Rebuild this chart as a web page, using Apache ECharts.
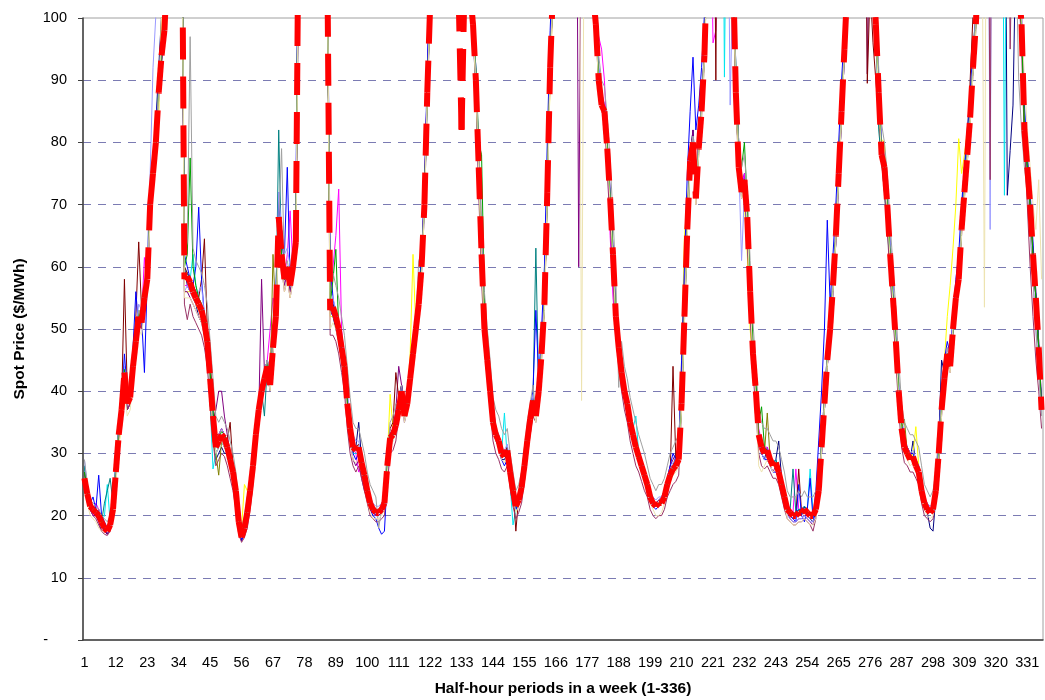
<!DOCTYPE html>
<html><head><meta charset="utf-8">
<script src="https://cdn.jsdelivr.net/npm/echarts@6/dist/echarts.min.js"></script>
<style>html,body{margin:0;padding:0;background:#fff}#c{width:1045px;height:700px}</style>
</head><body><div id="c"></div>
<script>
// Categories: half-hour periods 1..336
const periods = Array.from({length: 336}, (_, i) => String(i + 1));
const yTickValues = [0,10,20,30,40,50,60,70,80,90,100];

// Weekly price profiles ($/MWh); values above 100 are off the chart (clipped)
const priceNavy = [
28,24,21,20,20,21,18.5,17.5,17,18,20,26,32,36,41,37,38,45,50,53,52,56,60,72,77,83,92,100.5,110,120,130,140,150,140,125,60,57,56,55,54,52,51,50,46,38,33,29,30,
31,30,30,28,26,23,18,16,17.5,20,25,29,34,38,41,43,45,42,50,56,72,65,60,58,56,58,62,110,150,170,180,175,170,160,150,140,125,110,55,52,50,48,45,41,36,33,30,31,
35,29,27,25,22,21,20,20,20.5,21.5,27,33,34,36,38,41,37,39,44,48,52,55,62,72,90,105,105,110,115,120,125,120,115,110,106,104,100.5,108,110,104,98,88,74,60,48,43,38,34,
32,31,29,29,30,26.5,23,21,22,24,27,31,35,38,37,41,47,55,74,94,108,125,145,160,170,175,170,165,155,145,135,125,118,110,104,99,90,87,84,78,70,60,50,45,41,39,37,34,
32,30,29,27.5,26,25,23,22,21.5,22,22.5,23.5,25.5,27,28,29.5,31,40,54,68,78,82,74,80,86,95,110,130,150,160,165,160,150,135,120,108,90,77,73,75,66,55,45,39,32,30,29,31,
29,28,29,32,26,23,21,20,19.5,20,21,20,21.5,20,19.5,19,20.5,23,30,37,44,50,56,64,74,84,94,105,125,145,160,165,160,150,135,120,108,99,88,79,76,70,63,56,48,41,35,32,
30,29,32,28,27,24,22,20.5,18,17.5,23,32,45,43,46,44,50,55,58,66,72,78,84,92,99,110,130,150,165,175,180,175,170,160,150,71.5,78.7,86,112,105,99,82,76,70,62,55,47,38];

const priceMagenta = [
27,23,21,20,22,21,19,18,17.5,18,21,27,33,38,44,39,40,44,49,53,52,61.5,57,68,74,80,88,94,98,108,125,140,150,145,130,57,57,56,55,54,53,52,50,47,43,37,32,33,
34,33,31,29,27,24,19,17,18,21,25,29,33,38,41,43,45,50,55,53,64,60,58,62,69,60,66,120,150,170,180,175,170,160,150,140,125,110,55,60,65,72.5,50,45,38,33,31,30,
27,28,25,23,21,20.5,20,20.5,21,22,29,33,34,35,38,40,37,39,43,47,51,55,61,71,90,104,103,105,112,118,122,120,114,110,107,105,100.5,106,112,106,100.5,91,78,63,51,46,41,36,
34,32,31,30,31,27,24,22,23,25,29,33,36,39,37,41,47,56,74,94,106,125,145,160,170,175,170,165,155,145,135,125,118,110,104,100.5,97,95,90,80,65,55,50,45,41,39,36,34,
32,31,30,28,27,25,23.5,22,21.5,22,22.5,23.5,25.5,27,28,28.5,30,40,53,67,78,81,72,80,86,95,110,130,96,98,165,160,150,135,120,108,89,77,73,75,69,57,47,41,34,32,31,31,
29.5,28.5,29,27.5,26,24,22,21,20.5,27.5,21,21,21.5,21,20.5,20,21.5,25,32,39,46,51,58,66,76,86,96,106,125,145,160,165,160,150,135,120,108,100.5,89,79,77,71,63,56,49,41,35,32,
31,30,30,29,28,25,23,22,21,22,25,31,38,43,47,45,51,56,59,67,73,79,85,93,100.5,112,130,150,165,175,180,175,170,160,150,140,130,120,112,106,100.5,83,77,71,63,56,48,38];

const priceYellow = [
25,23,21.5,21,20.5,19.5,18.5,18,18,19,21,26,31,35,40,39,41,45,49,53,52,56,60,72,78,83.5,84,100.5,110,120,130,140,150,140,125,56,56,56,55,54,53,52,50,46,40,34,30,31,
32,31,30,28,26,23,19,18,25,24,25,29,34,38,41,43,45,42,48,54,66,61,58,59,57,59,63,115,150,170,180,175,170,160,150,140,125,110,52,52,51,49,46,43,38,34,31,31,
30,28,26,24,22,21,20.5,20.5,21,22,29,39.5,34,35,37,40,37,39,46,62,50,55,60,71,89,103,102,104,110,115,120,118,112,108,105,103,100.5,105,110,104,99.5,91,78,64,52,50,41,36,
33,32,30,29.5,30,26.5,24,21.5,22.5,24.5,28,32,35,38,36,40,46,53,71,90,104,125,145,160,170,175,170,165,155,145,135,125,118,110,104,99,91,87,85,79,72,62,52,48,44,41,38,35.5,
33,31,29.5,28,26.5,25,23,22,21.5,22,22,23,25,26.5,27.5,28,29,45,65,70,78,81,72,80,86,95,110,130,150,160,165,160,150,135,120,108,89,77,73,70,62,50,44,38,33,31,30,30,
29,28,28.5,27,25,23,21,20.5,20,20,20.5,20.5,21,20.5,20,20,21,24,31,38,45,50,57,65,75,85,95,105,125,145,160,165,160,150,135,120,108,99,88,80.5,80,72,64,57,50,42,35,32,
30,29,30,34.3,28,25,23,21.5,21,21.5,25,32,40,45,52,57,63,70,80.6,75,78,82,88,95,100.5,110,130,150,165,175,180,175,170,160,150,140,130,120,112,105,99,84,78,71,63,56,48,38];

const priceCyan = [
28,25,22,21,20,20,19,20,25,19,22,29,34,39,44,39,40,45,49,53,52,56,60,70,74,79,87,93,97,106,125,140,150,145,130,60,59,58,62,57,55,54,52,48,38,27.5,30,31,
32,31,30,28,26,23,18,16.5,18,21,25,29,34,38,41,43,45,42,48,53,66,61,58,60,57,60,64,120,150,170,180,175,170,160,150,140,125,110,53,52,51,49,46,43,37,33,30,30,
30,28,26,24,22,21,20.5,20.5,21,22,27,32,33,34.5,37,40,36,38,42,46,50,54,60,70,88,102,101,103,110,115,120,118,112,108,105,103,100.5,105,110,104,99.5,90,76,62,50,45,40,35,
33,32,30,36.5,29,25,18.5,21,23,25,29,33,36,39,37,41,47,55,73,93,106,125,145,160,170,175,170,165,155,145,135,125,118,110,104,99,90,86,85,79,71,62,52,47,43,40,38,36,
34,36,30,28.5,27,25.5,23.5,22.5,22,22.5,22.5,23.5,25.5,27,28,28.5,29.5,39,53,67,78,81,72,80,86,95,110,130,150,160,165,160,90.5,135,120,108,88,77,73,70.6,66,55,45,39,33,31,30,30.5,
29,28.5,29,27.5,25.5,23.5,21.5,21,20.5,20.5,21,21,21.5,21,27.5,20.5,21.5,24.5,31,38,45,50,57,65,75,85,95,105,125,145,160,165,160,150,135,120,108,99,88,78,76,70,62,55,48,40,34,31,
30,29,29.5,28,27,24,22,21,20.5,21,24,30,37,42,46,44,50,55,58,66,72,78,84,92,99,110,130,150,165,175,180,175,170,160,71.5,140,130,120,112,105,99,82,76,70,62,55,47,37];

const pricePurple = [
27,24,21,20.5,20,19,17.5,18,17,18,20,26,32,36,42,37,38,43,47,51,50,54,57,69,74,79,87,93,97,108,125,140,150,145,130,56,56,55,54,53,52,51,49,46,40,35,37,40,
40,36,33,30,28,24,19,16,17.5,20,23,27,32,36,58,43,45,42,48,53,65,61,57,59,56,59,62,115,150,170,180,175,170,160,150,140,125,110,53,52,51,49,46,42,36,32,29,28,
29,26,24,23,21,20.5,20,20,20.5,21.5,28,33,34,37,44,41,38,40,43,47,51,55,61,71,89,103,102,104,111,116,121,119,113,109,106,104,100.5,106,111,105,100.5,91,77,63,51,46,41,36,
33,32,30,29.5,30.5,27,24,21.5,22.5,24.5,28,32,35.5,38.5,36,40,46,54,72,92,105,125,145,160,170,175,170,165,155,60,135,125,118,110,104,99,91,87,85.5,80,72,63,53,48,44,41,39,36,
34,32,30,29,27,25.5,23.5,22.5,22,22.5,23,24,26,28,29,30,31,42,55,68,78,82,74,80,86,95,110,130,150,160,165,160,150,135,120,108,88,76,72,74,68,56,46,40,33,31,30,30.5,
28,27,28,26,24,22,20.5,19.5,19,19,19.5,19.5,20,19.5,19,18.5,20,23,30,37,44,49,56,64,74,84,94,104,125,145,160,165,160,150,91,120,108,99,88,78,76,70,62,55,48,40,34,31,
31,30,30,29,27.5,24.5,22.5,21.5,21,21.5,25,31,37,42,46,44,50,55,58,66,72,78,84,92,99,110,130,150,165,175,180,175,170,160,150,140,130,120,112,105,99,82,76,70,62,55,47,37];

const priceMaroon = [
27,25,22,21.5,21,20.5,19.5,18.5,18,19,21.5,28,34,38,58,40,40,45,52,64,53,56,59,71,76,81,89,95,99,108,125,140,150,145,130,60,59,58,57,56,55,58,64.5,50,45,38,33,33,
34,33,32,35,28,25,20,17,18.5,21,24.5,28.5,33.5,37.5,40.5,42.5,44.5,41.5,47.5,52.5,67,62,58,60,57,60,64,120,150,170,180,175,170,160,150,140,125,110,54,54,52.5,50.5,47.5,44.5,39,35,32,31,
31.5,29,27,24.5,22.5,21.5,21,21,21.5,22.5,29,34,35,43,39,41,37,39,43,47,51,55,61,71,89,103,102,104,111,116,121,119,113,109,106,104,100.5,106,111,105,100.5,91,77,63,51,46,41,36,
34,33,31,30,31,27.5,24.5,17.5,23,25,29,33,36,39,37,41,47,55,73,93,106,125,145,160,170,175,170,165,155,145,135,125,118,110,104,99,90,86,85,79,71,62,52,47,43,40,38,35,
33,31,29.5,28,26.5,25,23,22,21.5,22,22,23,25,26.5,44,29,30,39,53,67,78,81,72,80,86,95,110,130,150,90,165,160,150,135,120,108,88,76,72,74,68,56,46,40,33,31,30,30.5,
29,28,28.5,27,25,23,21,20.5,20,20,27.5,20.5,21,20.5,20,20,21,24,31,38,45,50,57,65,75,85,95,105,125,145,160,165,160,150,89.5,105,96,90,84,77,75,69,61,54,47,40,34,31,
30,29,29.5,28,27,24,22,21,20.5,21,24,30,37,42,46,44,50,55,58,66,74,76,90,100.5,110,115,130,150,165,175,180,175,170,160,150,140,130,120,112,105,99,82,76,70,62,55,47,37];

const priceTeal = [
28,24,22,21,20.5,20,19,22,24,26,22,27,33,37,43,38,39,44,48,52,51,55,58,70,75,80,88,94,98,108,125,140,150,145,130,59,59,58,57,56,54,53,51,48,42,36,31,32,
33,32.5,31,29,27,24,19,16.5,18,20.5,24,28,33,37,40,36,44,41,47,52,82,62,58,60,57,60,64,120,150,170,180,175,170,160,150,140,125,110,53,53.5,52,50,47,44,38,34,31,30.5,
31,28.5,26.5,24,22,21,20.5,20.5,21,22,28,32.5,33,34.5,37,40,36,38,42,46,50,54,60,70,88,102,101,103,110,115,120,118,112,108,105,103,100.5,105,110,104,99,90,76,62,50,45,40,35,
33,32,30,29.5,30.5,27,24,21.5,22.5,24.5,28,32,35.5,38.5,63,40,46,54,72,92,105,125,145,160,170,175,170,165,155,145,135,125,118,110,104,99,90,86,85,79,71,62,52,47,43,40,38,35,
33,31,29.5,28,26.5,25,23,22,21.5,22,22,23,25,26.5,27.5,28,29,38,52,66,77,80,71,79,85,94,110,130,150,160,165,160,150,135,120,108,88,76,72,74,68,56,46,40,33,31,30,30.5,
29.5,28.5,29,27.5,25.5,23.5,21.5,21,27.5,20.5,21,21,21.5,21,20.5,20.5,21.5,25,32,39,46,51,58,66,76,86,96,106,125,145,160,165,160,150,135,120,108,99,82,77,72,66,60,53,46,39,33,30,
30,29,29.5,28,27,24,22,21,20.5,21,24,30,37,42,46,44,50,55,60,68,76,80,86,93,99.5,110,130,150,165,175,180,175,170,160,150,140,130,120,112,105,99,82,76,70,62,55,47,37];

const priceBlue = [
27,24,22,23,21,26.5,20,19,18,19.5,22,28,34,38,46,40,41,47,56,50,52,43,58,68,76,82,90,96,100.5,112,130,140,150,140,120,62,60,58,57,60,69.6,58,52,48,40,34,30,31,
32,31,30,28,26,23,18,16,17.5,20,23,27,32,36,39,41,43,40,46,55,70,66,62,76,58,62,70,125,150,170,180,175,170,160,150,140,125,110,61,55,52,49,45,42,36,33,30,29,
30,28,26,23,21,20,19.5,18,17,17.5,26,31,33,35,38,41,37,39,43,47,51,56,62,72,92,110,112,115,120,125,130,125,120,115,110,108,105,110,112,106,100.5,92,78,64,52,46,42,38,
34,31,29,28,29,26,23,21,22,24,29,34,37,40,53,42,50,60,80,98,110,130,150,160,170,175,170,165,155,145,135,125,118,110,106,101,92,88,86,80,72,63,53,46,42,39,36,34,
32,30,29,27,26,24,22.5,21.5,21,21.5,22,24,26,28,30,29,31,45,60,75,85,93.7,82,86,92,100.5,115,130,150,160,165,160,150,135,120,110,92,80,74,72,66,54,44,38,32,30,29,29,
28,27,27,26,24,22,21,20,19.5,19,25,20,19,21,26,19.5,24,32,40,50,67.5,54,62,70,80,90,98,108,125,145,160,165,160,150,135,120,110,100.5,90,80,77,72,64,57,49,41,35,32,
31,30,30,29,28,25,23,21.5,20.5,21,25,33,40,45,48,46,52,58,62,70,76,82,88,95,100.5,115,130,150,165,175,180,175,170,160,150,140,130,120,112,106,100.5,86,78,72,64,56,48,38];

const priceLavender = [
29,25,22,21.5,21,20,19.5,18.5,18,19,22,28,34,38,44,39,41,46,50,54,53,57,62,75,92,100.5,110,120,130,140,150,160,165,150,130,56,57,56,55,54,56,57,52,49,43,37,32,33,
34,33,32,30,28,25,20,17,18.5,21,25,29,34,38,41,43,45,44,50,56,72,66,62,63,60,63,67,120,150,170,180,175,170,160,150,140,125,110,56,55,53,51,48,45,40,36,33,32,
32,29,27,25,23,22,21.5,21.5,22,23,29,31,32,34,36,39,35,37,41,45,49,53,59,69,87,101,100.5,103,110,115,120,118,112,108,105,103,100.5,105,110,104,100.5,92,78,64,52,47,42,37,
34,33,31,30.5,31.5,28,25,22.5,23.5,25.5,29,33,36.5,39.5,37,41,47,55,73,93,106,125,145,160,170,175,170,165,155,145,135,125,118,110,104,100.5,92,88,86,80,72,63,53,48,44,41,39,36,
34,32,30.5,29,27.5,26,24,23,22.5,23,23,24,26,27.5,28.5,29,30,39,53,67,78,81,72,80,86,95,110,130,150,160,165,160,150,135,86,108,89,77,61,72,66,55,45,39,32,30,29,29.5,
28,27,27.5,26,24,22,20,19.5,19,19,19.5,19.5,20,19.5,19,19,20,23,30,37,44,49,56,64,74,84,94,104,125,145,160,165,160,150,135,120,108,100.5,90,80,78,72,64,57,50,42,36,33,
31,30,30.5,29,28,25,23,22,21.5,22,25,31,38,43,47,45,51,56,59,67,73,79,85,93,100.5,112,130,150,165,66,180,175,170,160,150,140,130,120,112,105,100.5,80,72,66,58,50,44,36];

const pricePlum = [
26,23,21,20,19.5,18.5,17.5,17,16.8,17.5,20,26,32,36,42,37,38,43,47,51,50,54,57,69,74,79,87,93,97,107,125,140,150,145,130,54,51.5,54,52,51,50,49,47,44,38,32,28,29,
30,29.5,28,26,24,21,17,15.7,16.5,18,21,25,32,36,39,41,43,40,46,51,66,60,56,58,55,58,62,115,150,170,180,175,170,160,150,140,125,110,49,49,48,46,43,40,34,30,28,27,
28,26,24,22,20,19.5,19,19,19.5,20,25,30,30.5,32,36,39,35,37,41,45,49,53,59,69,87,101,100.5,102,110,115,120,118,112,108,105,103,100.5,105,110,104,98,89,72,58,47,42,37,32,
30,29,27.5,27,28,24.5,21.5,19.5,20.5,22,25.5,29.5,33,36,35,39,45,53,71,91,104,125,145,160,170,175,170,165,155,145,135,125,118,110,104,98,89,85,84,75,67,58,49,44,40,37,35,32,
30,28,27,25.5,24,23,21,20,19.5,20,20,21,23,24,25,25.5,26.5,37,51,65,76,79,70,78,84,93,110,130,150,160,165,160,150,135,120,108,87,75,71,73,64,52,43,37,30,28,27.5,28,
27,26,26,25,23,21,19.5,19,18.5,18.5,19,19,19.5,19,18.5,17.5,19.5,23,30,37,44,49,56,64,74,84,94,104,125,145,160,165,160,150,135,120,108,98,87,77,72,66,58,52,45,37,31,28.5,
28,27,27,26,25,22,20,19.5,19,19.5,22,27.5,36,41,45,43,50,54,57,65,71,77,83,91,98,110,130,150,165,74,180,175,170,160,150,140,95,120,112,105,95,80,70,60,52,45,40,34];

const priceOlive = [
27,23,22.5,21.5,20.5,20,19,18,17.5,18.5,21,27,33,37,43,38,39,44,48,52,51,55,58,70,75,80,88,94,98,108,125,140,150,145,130,58,58.5,57.5,56,55,54,53,51,48,42,32,30,26.5,
32,32,31,29,27,24,19,16.5,18,20.5,24,28,33,37,40,42,44,41,62,52,66,62,58,60,57,60,64,120,150,170,180,175,170,160,150,140,125,110,53,53.5,52,50,47,44,38,34,31,30.5,
31,28.5,26.5,24,22,21,20.5,20.5,21,22,28,32.5,33,34.5,37,40,36,38,42,46,50,54,60,70,88,102,101,103,110,115,120,118,112,108,105,103,100.5,105,110,104,99,90,76,62,50,45,40,35,
33,32,30,29.5,30.5,27,24,21.5,22.5,24.5,28,32,35.5,38.5,36,40,46,54,72,92,105,125,145,160,170,175,170,165,155,145,135,125,118,110,104,99,90,86,85,79,71,62,52,47,43,40,38,35,
33,31,29.5,28,26.5,25,23,22,21.5,22,22,23,25,26.5,27.5,28,29,38,52,66,77,80,71,79,85,94,110,130,150,160,165,160,150,135,120,108,88,76,72,74,68,56,46,40,33,31,30,36.5,
29,28,28.5,27,25,23,21,20.5,20,20,20.5,20.5,21,20.5,20,20,21,24,31,38,45,50,57,65,75,85,95,105,125,145,160,165,160,150,135,120,108,99,88,78,76,70,62,55,48,40,34,35.5,
30,29,29.5,28,27,24,22,21,20.5,21,24,30,37,42,46,44,50,55,58,66,72,78,84,92,99,110,130,150,165,175,180,175,170,160,150,140,130,120,112,105,99,82,76,70,62,55,47,37];

const priceGreen = [
27,24,22,21.5,21,20.5,19.5,18.5,18,19,21.5,27.5,33.5,37.5,43.5,38.5,39.5,44.5,48.5,52.5,51.5,55.5,58.5,70.5,75.5,80.5,88.5,94.5,98.5,108,125,140,150,145,130,60,62,77.5,60,57,55,54,52,49,43,37,32,32.5,
33.5,33,31.5,29.5,27.5,24.5,19.5,17,18.5,21,24.5,28.5,33.5,37.5,40.5,42.5,44.5,41.5,47.5,52.5,68,62,58,60,57,60,64,120,150,170,180,175,170,160,150,140,125,110,54,58,62.8,50,47,44,38,34,31,30.5,
31,28.5,26.5,24,22,21,20.5,20.5,21,22,28,32.5,33,34.5,37,40,36,38,42,46,50,54,60,70,88,102,101,103,110,115,120,118,112,108,105,103,100.5,105,110,104,99,92,80,78,55,47,41,36,
33,32,30,29.5,30.5,27,24,21.5,22.5,24.5,28,32,35.5,38.5,36,40,46,54,72,92,105,125,145,160,170,175,170,165,155,145,135,125,118,110,104,99,90,86,85,79,71,62,52,47,43,40,38,35,
33,31,29.5,28,26.5,25,23,22,21.5,22,22,23,25,26.5,27.5,28,29,38,52,66,77,80,71,79,85,94,110,130,150,160,165,160,150,135,120,108,92,80,76,80,70,58,48,42,35,37.5,31,30.5,
29,28,28.5,27,25,23,21,20.5,20,20,20.5,20.5,21,20.5,20,20,21,24,31,38,45,50,57,65,75,85,95,105,125,145,160,165,160,150,135,120,108,99,88,78,76,70,62,55,48,40,34,31,
30,29,29.5,28,27,24,22,21,20.5,21,24,30,37,42,46,44,50,55,58,66,72,78,84,92,99,110,130,150,165,175,180,175,170,160,150,140,130,120,112,105,99,82,76,70,62,55,47,37];

const priceGray = [
29,25,22.5,22,21.5,21,20,19.5,19,20,22,28,34,38,43,39,40,45,49,53,52,56,59,71,76,81,89,95,99,108,125,140,150,145,130,62,64,97,63,61,60,59,57,54,48,42,36,35,
36,35,34,32,30,27,22,18,20,23,25,29,34,38,41,43,45,42,48,53,67,79,60,61,58,61,65,120,150,170,180,175,170,160,150,140,125,110,58,59,57,55,52,49,44,39,35,34,
34,32,30,27,25,24,23,18,21,25,30,35,36,38,38,41,37,39,43,47,51,61,62,71,89,103,102,104,111,116,121,119,113,109,106,104,100.5,106,111,105,100,91,80,68,56,50,45,39,
37,36,34,33,34,30,27,24,25,27,31,35,38,41,36.5,40.5,46.5,54.5,72.5,92.5,106,125,145,160,170,175,170,165,155,145,135,125,118,110,104,100.5,94,90,89,84,77,68,58,40.6,48,44,42,39,
37,35,33,31.5,30,28,26,25,24,25,25,26,28,30,31,32,33,39,53,67,78,81,72,80,86,95,110,130,150,160,165,160,150,135,120,108,92,80,76,78,72,61,51,44,37,35,34,34,
33,32,32,31,29,27,24,23,23,23,24,23,24,23,23,23,24,25,32,39,46,51,58,66,76,86,96,106,125,145,160,165,160,150,135,120,108,100.5,92,83,80,75,67,60,53,45,38,35,
34,33,33,32,31,28,25,24,23,24,27,33,38,43,47,45,51,56,59,67,73,79,85,93,100.5,112,130,150,165,175,180,175,170,160,150,140,130,120,112,90,82,76,72,66,58,50,43,36];

const priceCream = [
26,22,20,19.5,19,18,17.5,17.5,17.5,18,20,25,31,35,40,36,37,42,46,50,49,53,56,68,73,83.5,85,100.5,110,120,130,140,150,145,130,55,55,55,54,53,52,51,49,46,40,34,30,31,
32,31,30,28,26,23,18.5,16.5,17.5,20,23,27,32,36,39,41,43,40,46,51,65,60,56,58,55,58,62,112,150,170,180,175,170,160,150,140,125,110,50,51,50,48,45,42,36,32,29,28.5,
29,27,25,22.5,20.5,19.5,19.5,19.5,20,21,27,31,32,33.5,36,39,35,37,41,45,49,53,59,69,87,101,100.5,102,110,115,120,118,112,108,105,103,100.5,105,110,104,98,89,75,61,49,44,39,34,
32,31,29,28.5,29.5,26,23,20.5,21.5,23.5,27,31,34.5,37.5,35,39,45,53,71,91,104,125,145,160,170,175,170,165,155,145,38.5,125,118,110,104,98,89,85,84,78,70,61,51,46,42,39,37,34,
32,30,28.5,27,25.5,24,22,21,20,20,20.5,22,24,25.5,26.5,27,28,37,51,65,76,79,70,78,84,93,110,130,150,160,165,160,150,135,120,108,87,75,71,73,67,55,45,39,28,27,28,29,
28,27,27.5,26,24,22,19.5,19,18.5,18.5,19,19,19.5,19,18.5,18.5,19.5,23,30,37,44,49,56,64,74,84,94,104,125,145,160,165,160,150,135,120,108,98,87,77,75,69,61,54,47,39,33,30,
29,28,28.5,27,26,23,21,20,19.5,20,23,29,36,41,45,43,50,54,57,65,71,77,83,91,98,110,130,53.5,165,175,180,175,170,160,150,140,130,120,112,105,100.5,90,82,76,70,66,74,58];

// Average profile (thick red dashed line)
const priceAverage = [
26,23.5,21.5,21,20.5,20,19,18,17.5,18.5,21,27,33,37,43,38,39,44,48,52,51,55,58,70,75,80,88,94,98,108,125,140,150,145,130,58,58.5,57.5,56,55,54,53,51,48,42,36,31,32,
33,32.5,31,29,27,24,19,16.5,18,20.5,24,28,33,37,40,42,44,41,47,52,68,62,58,60,57,60,64,120,150,170,180,175,170,160,150,140,125,110,53,53.5,52,50,47,44,38,34,31,30.5,
31,28.5,26.5,24,22,21,20.5,20.5,21,22,28,32.5,33,34.5,37,40,36,38,42,46,50,54,60,70,88,102,101,103,110,115,120,118,112,108,105,103,82,105,110,104,99,90,76,62,50,45,40,35,
33,32,30,29.5,30.5,27,24,21.5,22.5,24.5,28,32,35.5,38.5,36,40,46,54,72,92,105,125,145,160,170,175,170,165,155,145,135,125,118,110,104,99,90,86,85,79,71,62,52,47,43,40,38,35,
33,31,29.5,28,26.5,25,23,22,21.5,22,22,23,25,26.5,27.5,28,29,38,52,66,77,80,71,79,85,94,110,130,150,160,165,160,150,135,120,108,88,76,72,74,68,56,46,40,33,31,30,30.5,
29,28,28.5,27,25,23,21,20.5,20,20,20.5,20.5,21,20.5,20,20,21,24,31,38,45,50,57,65,75,85,95,105,125,145,160,165,160,150,135,120,108,99,88,78,76,70,62,55,48,40,34,31,
30,29,29.5,28,27,24,22,21,20.5,21,24,30,37,42,46,44,50,55,58,66,72,78,84,92,99,110,130,150,165,175,180,175,170,160,150,140,130,120,112,105,99,82,76,70,62,55,47,37];

const thinSeries = [
  ['navy', priceNavy, '#000080'],
  ['magenta', priceMagenta, '#FF00FF'],
  ['yellow', priceYellow, '#FFFF00'],
  ['cyan', priceCyan, '#00E5EE'],
  ['purple', pricePurple, '#800080'],
  ['maroon', priceMaroon, '#800000'],
  ['teal', priceTeal, '#008080'],
  ['blue', priceBlue, '#0000FF'],
  ['lavender', priceLavender, '#9999FF'],
  ['plum', pricePlum, '#993366'],
  ['olive', priceOlive, '#808000'],
  ['green', priceGreen, '#00A000'],
  ['gray', priceGray, '#A0A0A0'],
  ['cream', priceCream, '#EDE3B0']
];

const bad = thinSeries.concat([['avg', priceAverage]]).filter(s => s[1].length !== 336).map(s => s[0] + ':' + s[1].length);

const FONT = '"Liberation Sans", Arial, sans-serif';
const series = thinSeries.map(([name, arr, color]) => ({
  name, type: 'line', data: arr, symbol: 'none', clip: true, silent: true,
  lineStyle: { width: 1, color }, itemStyle: { color }, z: 2
}));
// Average drawn as separate segments so the dash pattern restarts on every segment
const avgSegments = priceAverage.slice(0, -1).map((v, i) => ({ coords: [[i, v], [i + 1, priceAverage[i + 1]]] }));
series.push({
  name: 'Average', type: 'lines', coordinateSystem: 'cartesian2d', data: avgSegments, clip: true, silent: true,
  lineStyle: { color: '#FF0000', width: 6, type: [32, 17], opacity: 1, curveness: 0, cap: 'butt' }, z: 3
});

const chart = echarts.init(document.getElementById('c'), null, { renderer: 'canvas' });
chart.setOption({
  animation: false,
  backgroundColor: '#ffffff',
  grid: { left: 83, right: 2, top: 18, bottom: 60, show: true, borderColor: '#a0a0a0', borderWidth: 1, containLabel: false, outerBoundsMode: 'none' },
  xAxis: {
    type: 'category', data: periods, boundaryGap: true,
    axisLine: { lineStyle: { color: '#404040', width: 1.5 } },
    axisTick: { show: false },
    axisLabel: { interval: 10, margin: 15, fontSize: 14.5, color: '#000', fontFamily: FONT },
    splitLine: { show: false },
    name: 'Half-hour periods in a week (1-336)', nameLocation: 'middle', nameGap: 41,
    nameTextStyle: { fontWeight: 'bold', fontSize: 15.5, color: '#000', fontFamily: FONT }
  },
  yAxis: {
    type: 'value', min: yTickValues[0], max: yTickValues[yTickValues.length - 1], interval: 10,
    axisLine: { show: true, lineStyle: { color: '#404040', width: 1.5 } },
    axisTick: { show: true, length: 5, lineStyle: { color: '#404040' } },
    axisLabel: {
      margin: 16, fontSize: 14.5, color: '#000', fontFamily: FONT,
      formatter: v => v === 0 ? '{d|-}' : String(v),
      rich: { d: { padding: [0, 19, 0, 0], fontSize: 14.5, color: '#000', fontFamily: FONT } }
    },
    splitLine: { show: true, showMinLine: false, showMaxLine: false, lineStyle: { color: '#7b7bb3', type: [8, 7], width: 1 } },
    name: 'Spot Price ($/MWh)', nameLocation: 'middle', nameGap: 55,
    nameTextStyle: { fontWeight: 'bold', fontSize: 15.5, color: '#000', fontFamily: FONT }
  },
  graphic: bad.length ? [{ type: 'text', left: 300, top: 300, style: { text: 'BAD ' + bad.join(' '), fontSize: 20, fill: '#f00' }, z: 100 }] : [],
  series
});
</script>
</body></html>
